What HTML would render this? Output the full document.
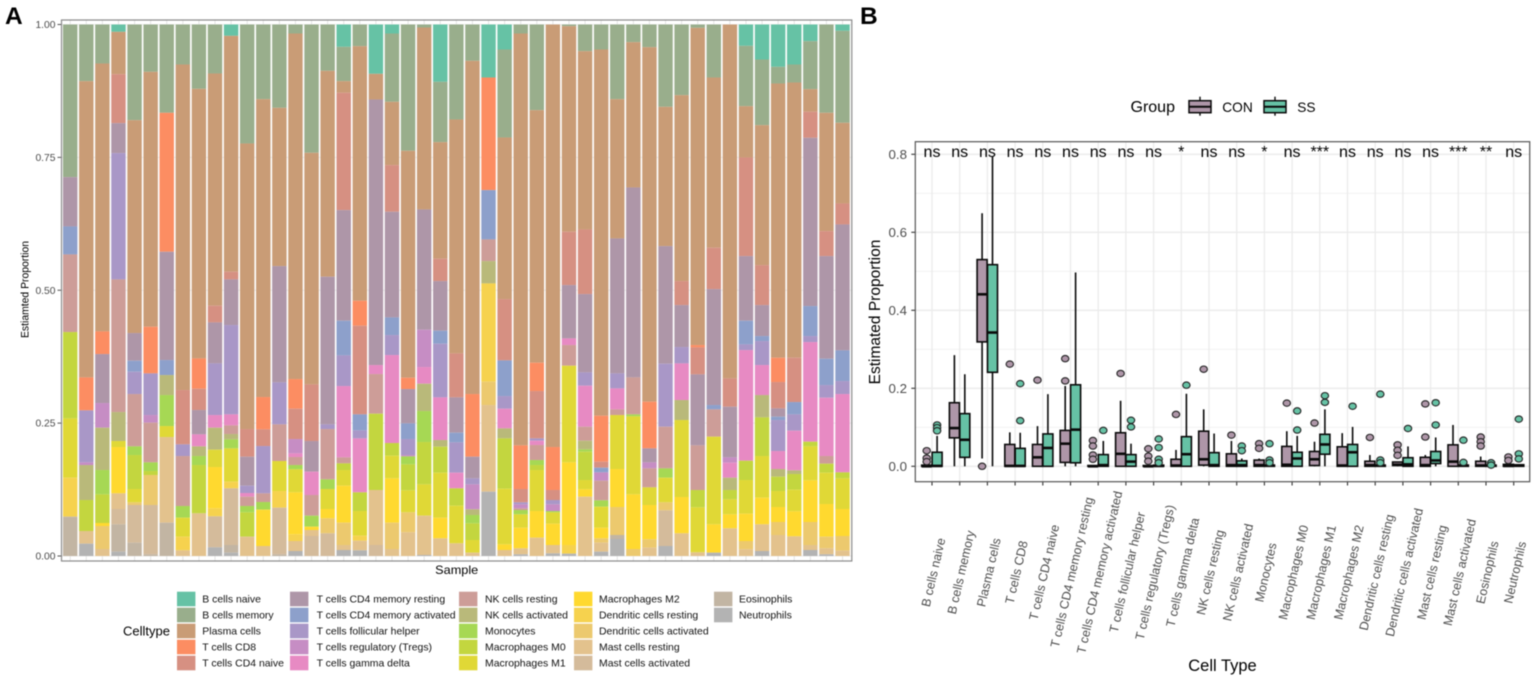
<!DOCTYPE html>
<html lang="en">
<head>
<meta charset="utf-8">
<title>Immune cell proportions</title>
<style>
html,body{margin:0;padding:0;background:#fff;width:1535px;height:679px;overflow:hidden}
svg{display:block;font-family:"Liberation Sans",Arial,sans-serif;filter:blur(.45px)}
</style>
</head>
<body>
<svg id="figure" xmlns="http://www.w3.org/2000/svg" width="1535" height="679" viewBox="0 0 1535 679">
  <rect x="0" y="0" width="1535" height="679" fill="#fff"/>
  <text x="5" y="24" font-size="24.5" font-weight="700" fill="#000">A</text>
  <text x="860" y="24" font-size="24.5" font-weight="700" fill="#000">B</text>

  <g id="panelA"></g>
  <text x="0" y="0" transform="translate(28.5,289.5) rotate(-90)" text-anchor="middle" font-size="11" textLength="97" lengthAdjust="spacingAndGlyphs" fill="#000">Estiamted Proportion</text>
  <text x="456.7" y="574" text-anchor="middle" font-size="12" textLength="43" lengthAdjust="spacingAndGlyphs" fill="#000">Sample</text>
  <g id="legendA">
    <text x="123" y="635.5" font-size="13" fill="#000">Celltype</text>
  </g>

  <g id="panelB"></g>
  <text x="0" y="0" transform="translate(880,312) rotate(-90)" text-anchor="middle" font-size="15.5" fill="#000">Estimated Proportion</text>
  <text x="1222.5" y="671" text-anchor="middle" font-size="16.5" fill="#000">Cell Type</text>
  <g id="legendB">
    <text x="1130.5" y="112" font-size="16" fill="#000">Group</text>
    <text x="1222.3" y="111.8" font-size="13.7" fill="#000">CON</text>
    <text x="1297.3" y="111.8" font-size="13.7" fill="#000">SS</text>
  </g>
</svg>

<script>
/* ---------- shared categories ---------- */
const cellTypes = ["B cells naive","B cells memory","Plasma cells","T cells CD8","T cells CD4 naive","T cells CD4 memory resting","T cells CD4 memory activated","T cells follicular helper","T cells regulatory (Tregs)","T cells gamma delta","NK cells resting","NK cells activated","Monocytes","Macrophages M0","Macrophages M1","Macrophages M2","Dendritic cells resting","Dendritic cells activated","Mast cells resting","Mast cells activated","Eosinophils","Neutrophils"];
const cellTypeColors = ["#66c2a5","#99ae8c","#c99c76","#fc8d62","#d69082","#ae96a8","#8da0cb","#a997c7","#c68dc4","#e78ac3","#cd9d98","#b9b97a","#a6d854","#c3d63f","#e0d836","#ffd92f","#f6d24e","#ecc96e","#e3c28d","#d4bb9b","#c2b5a3","#b3b3b3"];

/* ---------- panel A: relative abundance per sample, keyed by cell type index (normalised to 1 per sample) ---------- */
const sampleAbundance = [
{1:458,5:148,6:84,10:233,13:259,14:178,16:117,20:118},
{1:170,2:889,3:99,7:156,8:8,11:105,13:93,18:38,21:37},
{1:117,2:804,3:68,5:147,8:74,11:127,12:73,13:86,15:9,17:69,18:21},
{0:22,2:127,4:147,5:90,7:379,10:398,11:87,14:18,15:139,18:47,19:46,20:82,21:13},
{1:287,2:639,5:83,6:33,7:67,10:157,12:26,13:102,14:40,17:8,19:113,20:40},
{1:142,2:765,3:140,7:125,8:23,10:119,12:26,13:12,17:90,19:148,20:5},
{1:265,3:417,5:325,6:45,11:60,12:93,14:33,18:257,20:100},
{1:120,2:977,4:163,7:35,10:150,12:35,14:57,16:41,18:17},
{1:193,2:809,3:91,4:64,5:73,9:36,11:29,12:27,13:145,18:128},
{1:147,2:697,4:50,5:123,7:155,9:38,11:66,14:52,15:124,16:24,19:93,21:26},
{0:34,2:708,4:23,5:137,7:268,9:33,10:26,11:16,12:27,14:100,16:20,19:170,20:23,21:10},
{1:357,2:857,4:83,5:87,7:22,9:11,10:28,12:19,13:73,18:58},
{1:224,2:894,3:97,4:50,7:142,10:26,12:23,15:109,18:30},
{1:250,2:475,5:349,7:126,10:110,14:90,16:50,19:140,20:5},
{1:27,2:1037,3:89,4:91,8:43,9:11,10:24,12:13,14:69,15:126,16:20,18:30,21:15},
{1:385,2:695,4:170,5:92,9:70,10:62,12:33,15:10,18:18,19:60},
{1:139,2:618,5:443,7:14,10:151,12:29,14:60,15:28,17:45,19:68},
{0:67,1:103,2:35,4:352,5:332,6:104,7:92,9:214,10:18,13:20,14:47,15:111,17:67,18:15,21:18},
{1:65,2:764,3:75,4:266,6:48,7:24,9:162,13:56,14:74,16:15,18:29,21:17},
{0:148,2:77,5:797,9:27,10:119,13:229,18:165,19:33},
{0:27,1:205,2:190,4:140,5:317,6:53,7:60,9:264,13:38,14:68,15:133,17:79,18:21},
{1:379,2:681,3:34,5:103,6:47,7:48,8:4,12:24,13:78,14:66,17:60,18:71},
{1:9,2:546,5:361,8:112,9:50,11:82,12:93,13:127,14:94,18:118,21:3},
{0:172,1:181,2:350,4:67,5:149,6:39,7:161,9:128,11:20,13:78,14:135,15:62,18:53},
{1:285,2:702,4:132,5:106,6:29,7:91,9:47,13:52,14:113,18:38},
{1:109,2:1000,3:188,5:65,7:18,8:75,11:17,12:25,13:50,14:38,18:10},
{0:159,3:338,6:148,10:65,11:67,16:295,17:70,18:260,21:193},
{0:75,1:264,2:485,4:184,6:107,7:38,9:59,11:30,13:151,14:167,15:17,18:18},
{1:27,2:1236,3:131,4:40,7:6,8:12,10:5,12:13,14:40,15:62,18:18,21:5},
{1:257,2:758,3:85,4:142,7:7,9:13,10:45,12:15,13:15,14:123,15:80,18:55},
{2:1268,3:129,4:30,7:13,8:20,12:4,14:34,15:64,18:25,21:8},
{1:5,2:617,4:160,5:160,9:20,10:62,14:290,15:248,16:26,21:7},
{1:80,2:535,4:194,5:235,7:40,9:123,10:42,11:26,12:7,13:85,14:28,15:22,18:178},
{1:75,2:1099,3:138,4:18,6:14,8:25,10:59,12:19,14:63,15:32,17:13,18:27,21:13},
{1:224,2:418,5:405,7:45,9:63,10:17,14:162,15:114,17:84,20:12,21:51},
{1:53,2:436,5:570,10:111,12:6,14:234,15:164,17:21},
{1:68,2:1064,3:140,5:42,8:18,10:57,14:53,15:103,17:25,18:25},
{1:247,2:418,5:353,7:189,10:125,12:28,14:74,17:24,19:107,21:30},
{1:212,2:558,4:72,5:126,7:49,9:110,11:60,14:231,15:109,18:68},
{1:10,2:952,3:7,4:81,5:213,10:134,13:52,14:135,18:11},
{1:159,2:511,4:124,5:348,6:13,10:82,14:263,15:85,21:10},
{2:1062,4:85,5:152,8:16,9:45,11:37,13:28,14:45,15:42,18:83},
{0:64,1:181,2:154,4:296,5:194,6:71,7:17,9:332,13:58,14:101,15:82,17:25,18:20},
{0:105,1:197,2:420,4:120,5:93,6:15,7:72,9:90,11:67,13:116,14:125,15:80,18:80,21:15},
{0:127,1:50,2:823,3:73,4:79,5:25,6:10,7:93,9:54,11:23,13:43,14:48,15:45,17:39,18:63},
{0:120,1:54,2:826,4:133,6:37,7:49,9:119,11:11,13:47,14:65,15:75,18:59},
{0:50,1:144,2:68,4:78,5:505,6:90,7:18,9:299,13:14,14:102,15:125,17:69,18:15,21:18},
{1:265,2:355,4:75,5:308,6:79,7:38,9:175,10:23,13:27,14:94,15:98,17:35,18:18,21:5},
{0:19,1:276,2:242,4:63,5:378,6:92,7:39,9:235,13:18,14:92,15:81,17:44,18:16}
];
const stackedYTicks = [0, 0.25, 0.5, 0.75, 1];
const stackedYTickLabels = ["0.00", "0.25", "0.50", "0.75", "1.00"];

/* ---------- panel B: box statistics per cell type ---------- */
const conQ1 = [0,.073,.319,0,0,.010,0,0,0,0,.003,0,0,0,.002,0,0,.002,0,0,0,0];
const conMedian = [0,.098,.441,.001,.023,.058,0,.032,0,.002,.018,.003,.003,.004,.018,.002,.003,.004,.003,.012,.002,.001];
const conQ3 = [.003,.163,.530,.056,.056,.092,.002,.086,.002,.018,.090,.032,.016,.051,.038,.050,.013,.011,.023,.055,.013,.005];
const conWhiskerLow = [0,0,.02,0,0,0,0,0,0,0,0,0,0,0,0,0,0,0,0,0,0,0];
const conWhiskerHigh = [.003,.285,.649,.087,.103,.206,.002,.168,.002,.042,.146,.065,.02,.09,.063,.085,.029,.011,.029,.106,.025,.005];
const conOutliers = [[.04,.021,.012],[],[0],[.262],[.221],[.276,.219],[.066,.052,.029,.018],[.238],[.045,.026,.013],[.133],[.249],[.08],[.058,.046],[.162],[.111],[],[.074],[.055,.041,.028],[.16,.075],[],[.075,.063,.052],[.024,.015]];

const ssQ1 = [0,.023,.241,0,0,.009,0,0,0,0,0,0,0,0,.031,0,0,0,.007,0,0,0];
const ssMedian = [.001,.068,.343,.001,.047,.094,.003,.012,.001,.031,.003,.003,.002,.02,.056,.036,.002,.005,.015,.002,.002,.002];
const ssQ3 = [.036,.135,.517,.046,.083,.209,.030,.030,.003,.076,.035,.014,.003,.036,.082,.056,.003,.022,.038,.003,.003,.004];
const ssWhiskerLow = [0,0,0,0,0,0,0,0,0,0,0,0,0,0,0,0,0,0,0,0,0,0];
const ssWhiskerHigh = [.078,.236,.794,.086,.185,.497,.065,.058,.003,.186,.084,.02,.003,.078,.146,.101,.003,.051,.074,.003,.003,.004];
const ssOutliers = [[.106,.099,.091],[],[],[.212,.117],[],[],[.092],[.118,.101],[.07,.048,.018,.009],[.208],[],[.052,.04],[.058,.016,.009],[.142,.093],[.181,.164],[.154],[.185,.016,.009],[.097],[.163,.106],[.067,.01],[.009,.003],[.121,.032,.019]];

const significanceLabels = ["ns","ns","ns","ns","ns","ns","ns","ns","ns","*","ns","ns","*","ns","***","ns","ns","ns","ns","***","**","ns"];
const boxYTicks = [0, 0.2, 0.4, 0.6, 0.8];
const boxYMinorTicks = [0.1, 0.3, 0.5, 0.7];
const boxYTickLabels = ["0.0", "0.2", "0.4", "0.6", "0.8"];

/* ---------- scales and helpers ---------- */
const SVGNS = "http://www.w3.org/2000/svg";
const xStack = i => 70.2 + 16.09 * i;
const yStack = v => 556 - 531.5 * v;
const xBox = i => 932 + 27.7 * i;
const yBox = v => 466.3 - 390 * v;
const CON_FILL = "#ae96a8", SS_FILL = "#66c2a5";

function make(tag, parent, attrs, text) {
  const el = document.createElementNS(SVGNS, tag);
  for (const k in attrs) el.setAttribute(k, attrs[k]);
  if (text !== undefined) el.textContent = text;
  parent.appendChild(el);
  return el;
}

/* ---------- panel A ---------- */
const panelA = document.getElementById("panelA");
const legendA = document.getElementById("legendA");

const aPanelBg = make("rect", panelA, {x:61.5, y:20, width:790.3, height:541, fill:"#fff"});



stackedYTicks.forEach((t, k) => {
  const g = make("line", panelA, {x1:61.5, x2:851.8, y1:yStack(t), y2:yStack(t), stroke:"#ededed", "stroke-width":1});
  
  
  const tick = make("line", panelA, {x1:57.5, x2:61.5, y1:yStack(t), y2:yStack(t), stroke:"#555", "stroke-width":1});
  
  
  const lab = make("text", panelA, {x:55.5, y:yStack(t) + 3.6, "text-anchor":"end", "font-size":10.3, fill:"#4d4d4d"}, stackedYTickLabels[k]);
  
  
});

sampleAbundance.forEach((sample, i) => {
  const grid = make("line", panelA, {x1:xStack(i), x2:xStack(i), y1:20, y2:561, stroke:"#e4e4e4", "stroke-width":1});
  
  
  const group = make("g", panelA, {});
  
  
  let total = 0;
  cellTypes.forEach((_, c) => { total += sample[c] || 0; });
  let upper = 1;
  cellTypes.forEach((_, c) => {
    const v = sample[c] || 0;
    if (!v) return;
    const frac = v / total;
    const seg = make("rect", group, {
      x: xStack(i) - 7.2, width: 14.4,
      y: yStack(upper), height: yStack(upper - frac) - yStack(upper),
      fill: cellTypeColors[c]
    });
    
    
    upper -= frac;
  });
});

const aBorder = make("rect", panelA, {x:61.5, y:20, width:790.3, height:541, fill:"none", stroke:"#8a8a8a", "stroke-width":1.2});



const legendColumnsSwatchX = [177, 290, 459, 574, 714];
const legendColumnsLabelX = [202.3, 316.6, 485, 599, 739];
cellTypes.forEach((name, c) => {
  const col = Math.floor(c / 5), row = c % 5;
  const y = 599 + 16 * row;
  const sw = make("rect", legendA, {x:legendColumnsSwatchX[col], y:y - 7.3, width:18.4, height:14.6, fill:cellTypeColors[c]});
  
  
  const lab = make("text", legendA, {x:legendColumnsLabelX[col], y:y + 3.5, "font-size":10.45, fill:"#111"}, name);
  
  
});

/* ---------- panel B ---------- */
const panelB = document.getElementById("panelB");
const legendB = document.getElementById("legendB");

boxYMinorTicks.forEach(t => {
  const g = make("line", panelB, {x1:915.3, x2:1529.7, y1:yBox(t), y2:yBox(t), stroke:"#efefef", "stroke-width":.9});
  
  
});
boxYTicks.forEach((t, k) => {
  const g = make("line", panelB, {x1:915.3, x2:1529.7, y1:yBox(t), y2:yBox(t), stroke:"#ebebeb", "stroke-width":1.3});
  
  
  const tick = make("line", panelB, {x1:911.3, x2:915.3, y1:yBox(t), y2:yBox(t), stroke:"#333", "stroke-width":1.1});
  
  
  const lab = make("text", panelB, {x:907, y:yBox(t) + 4.8, "text-anchor":"end", "font-size":13.3, fill:"#4d4d4d"}, boxYTickLabels[k]);
  
  
});
cellTypes.forEach((name, i) => {
  const g = make("line", panelB, {x1:xBox(i), x2:xBox(i), y1:141.7, y2:481.7, stroke:"#ebebeb", "stroke-width":1.3});
  
  
  const tick = make("line", panelB, {x1:xBox(i), x2:xBox(i), y1:481.7, y2:485.5, stroke:"#333", "stroke-width":1.1});
  
  
  const lab = make("text", panelB, {
    x: 0, y: 0, "text-anchor": "middle", "font-size": 12.5, fill: "#4d4d4d",
    transform: "translate(" + (xBox(i) + 5.5) + ",573.3) rotate(-77)"
  }, name);
  
  
});

function drawBox(parent, cx, fill, q1, med, q3, lo, hi, outs) {
  const w = 10;
  const whisker = make("line", parent, {x1:cx, x2:cx, y1:yBox(hi), y2:yBox(lo), stroke:"#0a0a0a", "stroke-width":1.6});
  
  
  const box = make("rect", parent, {x:cx - w / 2, width:w, y:yBox(q3), height:Math.max(0, yBox(q1) - yBox(q3)), fill:fill, stroke:"#0a0a0a", "stroke-width":1.6});
  
  
  const median = make("line", parent, {x1:cx - w / 2, x2:cx + w / 2, y1:yBox(med), y2:yBox(med), stroke:"#0a0a0a", "stroke-width":2.6});
  
  
  outs.forEach(v => {
    const dot = make("ellipse", parent, {cx:cx, cy:yBox(v), rx:3.7, ry:3.2, fill:fill, stroke:"#222", "stroke-width":1.1});
    
    
  });
}

cellTypes.forEach((_, i) => {
  const g = make("g", panelB, {});
  
  
  drawBox(g, xBox(i) - 5.3, CON_FILL, conQ1[i], conMedian[i], conQ3[i], conWhiskerLow[i], conWhiskerHigh[i], conOutliers[i]);
  drawBox(g, xBox(i) + 5.1, SS_FILL, ssQ1[i], ssMedian[i], ssQ3[i], ssWhiskerLow[i], ssWhiskerHigh[i], ssOutliers[i]);
});

significanceLabels.forEach((s, i) => {
  const t = make("text", panelB, {x:xBox(i), y:156.8, "text-anchor":"middle", "font-size":16, fill:"#000"}, s);
  
  
});

const bBorder = make("rect", panelB, {x:915.3, y:141.7, width:614.4, height:340, fill:"none", stroke:"#555", "stroke-width":1.2});



function legendKey(x, fill, name) {
  const g = make("g", legendB, {});
  
  
  make("line", g, {x1:x + 11, x2:x + 11, y1:96.7, y2:115.7, stroke:"#0a0a0a", "stroke-width":1.4});
  make("rect", g, {x:x, y:100.7, width:22, height:12, fill:fill, stroke:"#0a0a0a", "stroke-width":1.5});
  make("line", g, {x1:x, x2:x + 22, y1:106.7, y2:106.7, stroke:"#0a0a0a", "stroke-width":2});
}
legendKey(1189, CON_FILL, 'group-legend-con-key');
legendKey(1264, SS_FILL, 'group-legend-ss-key');
</script>
</body>
</html>
